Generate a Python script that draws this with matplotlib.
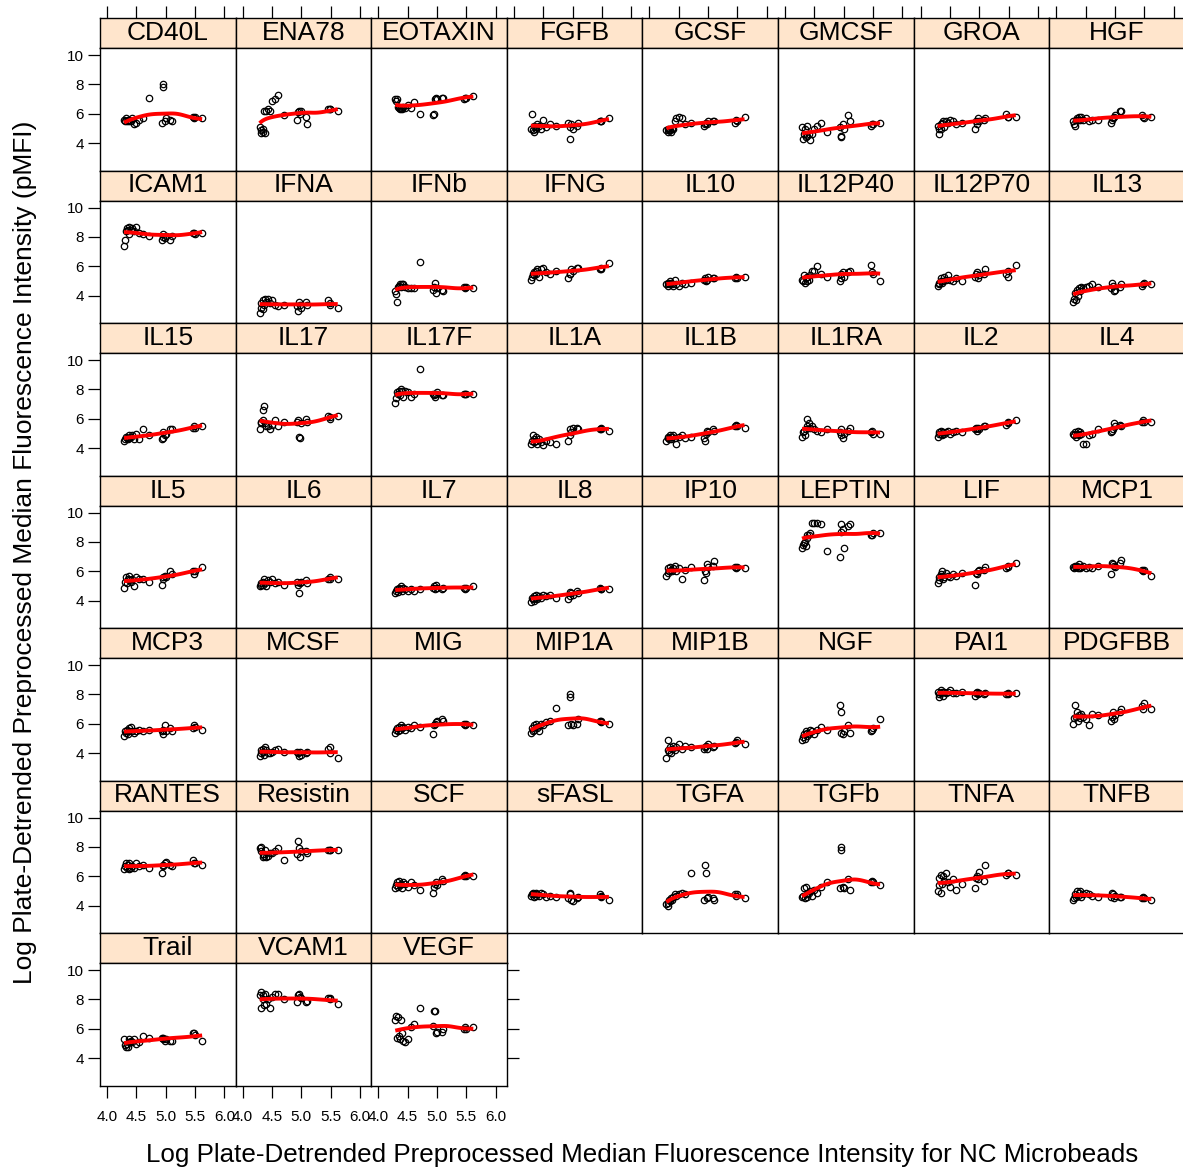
import numpy as np
import matplotlib.pyplot as plt

plt.rcParams['font.family'] = ['Liberation Sans', 'DejaVu Sans']

# NC microbead intensity per sample (shared by every analyte panel)
nc = [4.29, 4.31, 4.32, 4.34, 4.35, 4.37, 4.38, 4.40, 4.43, 4.46, 4.50, 4.55, 4.61,
      4.71, 4.93, 4.95, 4.96, 4.98, 5.00, 5.08, 5.10, 5.46, 5.48, 5.49, 5.62]

analytes = ['CD40L', 'ENA78', 'EOTAXIN', 'FGFB', 'GCSF', 'GMCSF', 'GROA', 'HGF',
            'ICAM1', 'IFNA', 'IFNb', 'IFNG', 'IL10', 'IL12P40', 'IL12P70', 'IL13',
            'IL15', 'IL17', 'IL17F', 'IL1A', 'IL1B', 'IL1RA', 'IL2', 'IL4',
            'IL5', 'IL6', 'IL7', 'IL8', 'IP10', 'LEPTIN', 'LIF', 'MCP1',
            'MCP3', 'MCSF', 'MIG', 'MIP1A', 'MIP1B', 'NGF', 'PAI1', 'PDGFBB',
            'RANTES', 'Resistin', 'SCF', 'sFASL', 'TGFA', 'TGFb', 'TNFA', 'TNFB',
            'Trail', 'VCAM1', 'VEGF']

pmfi = {
    'CD40L':   [5.6,5.5,5.7,5.5,5.6,5.5,5.6,5.5,5.7,5.3,5.4,5.6,5.7,7.1,5.4,8.0,7.8,5.5,5.7,5.6,5.5,5.8,5.7,5.8,5.7],
    'ENA78':   [5.1,4.7,4.9,4.8,5.0,6.2,4.7,6.2,6.3,6.2,6.9,7.0,7.3,5.9,5.6,6.1,6.2,6.0,6.2,5.8,5.3,6.3,6.3,6.3,6.2],
    'EOTAXIN': [7.0,6.9,7.0,6.5,6.4,6.3,6.4,6.3,6.5,6.4,6.6,6.4,6.8,6.0,5.9,6.0,7.0,7.1,7.0,7.1,7.1,7.0,7.1,7.1,7.2],
    'FGFB':    [5.0,6.0,4.9,5.2,4.8,5.1,5.0,5.3,5.2,5.0,5.6,5.1,5.3,5.2,5.4,5.1,4.3,5.3,5.0,5.2,5.4,5.5,5.5,5.5,5.7],
    'GCSF':    [4.9,4.8,5.0,4.9,4.9,4.8,5.0,5.0,5.5,5.7,5.8,5.7,5.3,5.4,5.2,5.3,5.4,5.3,5.5,5.5,5.5,5.4,5.6,5.5,5.8],
    'GMCSF':   [5.1,4.3,4.6,5.0,4.4,5.2,4.5,4.6,4.2,4.6,5.0,5.2,5.4,4.8,5.1,4.4,4.5,5.3,5.0,5.9,5.5,5.2,5.3,5.3,5.4],
    'GROA':    [5.2,4.6,5.0,5.3,5.0,5.4,5.5,5.1,5.5,5.4,5.6,5.5,5.3,5.4,5.0,5.5,5.3,5.7,5.5,5.6,5.7,6.0,5.8,5.8,5.8],
    'HGF':     [5.5,5.3,5.2,5.6,5.7,5.6,5.8,5.6,5.8,5.6,5.7,5.5,5.6,5.6,5.4,5.6,5.7,5.8,5.9,6.2,6.2,5.9,5.8,5.7,5.8],
    'ICAM1':   [7.4,7.8,8.4,8.6,8.5,8.2,8.7,8.5,8.6,8.4,8.7,8.3,8.2,8.1,7.8,8.0,8.2,7.9,8.1,7.8,8.1,8.3,8.3,8.2,8.3],
    'IFNA':    [2.8,3.2,3.5,3.1,3.7,3.4,3.8,3.6,3.8,3.5,3.7,3.4,3.3,3.4,3.3,3.0,3.6,3.4,3.2,3.6,3.4,3.7,3.4,3.5,3.2],
    'IFNb':    [4.3,4.1,3.6,4.6,4.7,4.8,4.6,4.8,4.8,4.6,4.5,4.5,4.5,6.3,4.4,4.6,4.9,4.2,4.5,4.4,4.3,4.6,4.5,4.6,4.5],
    'IFNG':    [5.1,5.3,5.5,5.6,5.4,5.7,5.5,5.8,5.3,5.8,5.9,5.6,5.5,5.7,5.2,5.5,5.5,5.8,5.7,5.9,5.9,5.8,5.8,5.9,6.2],
    'IL10':    [4.8,4.9,4.7,4.8,5.0,4.9,4.8,4.7,5.1,4.8,4.7,4.9,4.8,4.9,5.1,5.2,5.0,5.1,5.3,5.2,5.2,5.2,5.3,5.2,5.3],
    'IL12P40': [5.1,5.0,5.4,4.9,5.2,5.0,5.3,5.1,5.4,5.7,5.7,6.0,5.5,5.3,5.0,5.2,5.5,5.6,5.3,5.6,5.7,6.1,5.6,5.5,5.0],
    'IL12P70': [4.7,4.8,4.9,5.0,5.2,4.9,5.0,5.3,5.1,5.4,5.1,5.0,5.2,5.0,5.3,5.5,5.6,5.2,5.4,5.5,5.8,5.5,5.3,5.7,6.1],
    'IL13':    [3.6,3.8,4.2,3.7,4.4,4.0,4.5,4.3,4.6,4.5,4.6,4.7,4.8,4.6,4.5,4.9,4.7,4.3,4.4,4.6,4.8,4.7,4.8,4.9,4.8],
    'IL15':    [4.5,4.6,4.8,4.7,4.6,4.9,4.7,4.8,4.9,4.6,5.0,4.6,5.3,4.9,4.6,4.7,5.1,4.9,5.0,5.3,5.3,5.4,5.5,5.4,5.5],
    'IL17':    [5.3,5.7,5.8,6.6,5.9,6.9,5.7,5.5,5.5,5.3,5.6,5.9,5.5,5.8,5.8,5.9,4.8,4.7,5.7,6.0,5.8,6.2,6.0,6.1,6.2],
    'IL17F':   [7.1,7.4,7.8,7.7,7.9,7.6,8.0,7.9,7.5,7.9,7.8,7.5,7.7,9.4,7.7,7.6,7.5,7.7,7.8,7.6,7.6,7.7,7.7,7.7,7.7],
    'IL1A':    [4.3,4.5,4.9,4.6,4.4,4.8,4.5,4.3,4.6,4.4,4.2,4.5,4.4,4.3,4.5,4.9,5.3,5.1,5.4,5.4,5.3,5.3,5.4,5.3,5.2],
    'IL1B':    [4.5,4.7,4.8,4.6,4.9,4.6,4.8,4.9,4.7,4.3,4.8,4.9,4.7,4.8,4.7,4.5,5.0,5.2,5.1,5.3,5.2,5.5,5.6,5.5,5.4],
    'IL1RA':   [4.8,5.1,5.2,4.9,5.3,5.5,6.0,5.7,5.4,5.5,5.3,5.2,5.1,5.3,5.1,4.9,5.3,4.7,5.0,5.2,5.4,5.1,5.2,5.0,5.0],
    'IL2':     [4.8,5.0,5.1,5.2,5.0,4.9,5.1,5.0,5.1,5.2,5.0,5.1,5.2,5.1,5.3,5.4,5.2,5.4,5.3,5.5,5.5,5.6,5.8,5.7,5.9],
    'IL4':     [5.0,4.9,5.1,4.8,5.0,5.2,4.9,5.1,5.0,4.3,4.3,4.9,5.0,5.3,5.1,5.2,5.3,5.7,5.5,5.6,5.5,5.8,5.9,5.8,5.8],
    'IL5':     [4.9,5.3,5.6,5.2,5.5,5.4,5.7,5.3,5.5,5.0,5.6,5.5,5.5,5.3,5.1,5.5,5.6,5.7,5.6,6.0,5.8,6.0,5.8,6.0,6.3],
    'IL6':     [5.0,5.1,5.2,5.3,5.1,5.5,5.2,5.0,5.4,5.3,5.5,5.2,5.3,5.1,5.3,5.1,4.5,5.2,5.3,5.4,5.2,5.5,5.6,5.5,5.5],
    'IL7':     [4.5,4.7,4.8,4.6,4.9,4.8,5.0,4.7,4.9,4.8,4.7,4.8,4.7,4.8,4.9,5.0,4.8,5.1,4.9,4.8,4.9,4.9,4.8,4.9,5.0],
    'IL8':     [3.9,4.2,4.1,4.3,4.0,4.2,4.4,4.1,4.3,4.2,4.4,4.3,4.4,4.2,4.1,4.3,4.6,4.5,4.4,4.7,4.5,4.9,4.8,4.8,4.8],
    'IP10':    [5.7,5.9,6.2,6.0,6.3,6.1,6.0,6.2,6.4,6.0,6.2,5.5,6.1,6.3,5.4,6.0,5.9,6.5,6.3,6.4,6.7,6.3,6.2,6.3,6.2],
    'LEPTIN':  [7.6,7.8,7.9,8.0,7.7,8.3,8.5,8.5,8.6,9.3,9.3,9.3,9.2,7.4,7.0,9.2,8.7,8.9,7.6,9.1,9.2,8.5,8.5,8.6,8.6],
    'LIF':     [5.2,5.4,5.6,5.7,5.8,6.0,5.5,5.6,5.9,5.7,5.6,5.8,5.7,5.9,5.1,5.9,5.8,6.0,6.1,6.1,6.3,6.2,6.3,6.4,6.6],
    'MCP1':    [6.3,6.2,6.4,6.3,6.4,6.2,6.5,6.2,6.3,6.4,6.2,6.3,6.2,6.4,5.8,6.6,6.5,6.4,6.3,6.6,6.8,6.1,6.0,6.1,5.7],
    'MCP3':    [5.2,5.5,5.4,5.6,5.3,5.7,5.5,5.8,5.5,5.4,5.5,5.6,5.5,5.6,5.5,5.3,5.6,5.9,5.5,5.7,5.5,5.7,5.9,5.8,5.6],
    'MCSF':    [3.8,4.0,4.2,4.3,4.1,3.9,4.4,4.2,4.0,4.0,4.1,4.2,4.3,4.1,4.1,4.0,3.8,4.1,3.9,4.0,4.1,4.3,4.0,4.4,3.7],
    'MIG':     [5.4,5.6,5.7,5.5,5.8,5.6,5.9,5.7,5.8,5.6,5.8,5.7,5.9,5.8,5.3,5.9,6.0,6.1,6.2,6.3,6.2,6.0,5.9,6.0,5.9],
    'MIP1A':   [5.4,5.7,5.5,5.9,5.6,6.0,5.8,5.7,5.5,6.0,5.9,6.1,6.2,7.1,5.9,8.0,7.8,6.0,5.9,6.0,6.3,6.2,6.1,6.2,6.0],
    'MIP1B':   [3.7,4.2,4.9,4.1,4.4,4.0,4.3,4.5,4.2,4.4,4.6,4.3,4.5,4.4,4.3,4.4,4.5,4.3,4.6,4.4,4.5,4.7,4.8,4.9,4.6],
    'NGF':     [4.9,5.1,5.3,5.0,5.5,5.2,5.4,5.3,5.6,5.5,5.3,5.6,5.8,5.6,7.3,6.8,5.4,5.3,5.5,5.9,5.4,5.5,5.6,5.7,6.3],
    'PAI1':    [8.2,8.0,7.8,8.1,8.3,8.2,7.9,8.2,8.1,8.2,8.3,8.1,8.1,8.2,7.9,8.1,8.2,8.0,8.1,8.0,8.1,8.0,8.0,8.1,8.1],
    'PDGFBB':  [6.0,6.4,7.3,6.5,6.8,6.2,6.6,6.4,6.7,6.5,6.3,5.9,6.7,6.6,6.2,6.5,6.8,6.3,6.6,6.8,7.0,7.2,7.0,7.4,7.0],
    'RANTES':  [6.5,6.7,6.9,6.6,6.8,6.5,6.9,6.6,6.7,6.6,6.9,6.7,6.8,6.6,6.2,6.7,6.8,6.9,7.0,6.8,6.7,7.1,6.9,6.9,6.8],
    'Resistin':[7.9,7.7,8.0,7.3,7.5,7.4,7.8,7.3,7.4,7.6,7.6,7.7,7.9,7.1,7.5,8.4,7.9,7.3,7.7,7.7,7.6,7.8,7.8,7.8,7.8],
    'SCF':     [5.2,5.4,5.6,5.3,5.7,5.4,5.5,5.2,5.6,5.5,5.3,5.6,5.4,5.1,4.9,5.3,5.5,5.6,5.4,5.8,5.7,6.0,6.1,6.0,6.0],
    'sFASL':   [4.7,4.8,4.9,4.6,4.8,4.7,4.9,4.8,4.7,4.9,4.8,4.6,4.7,4.6,4.5,4.9,4.8,4.4,4.3,4.5,4.6,4.8,4.7,4.6,4.4],
    'TGFA':    [4.1,4.2,4.0,4.4,4.3,4.5,4.4,4.6,4.8,4.7,4.8,4.9,4.8,6.2,4.4,6.8,6.2,4.5,4.6,4.5,4.4,4.8,4.7,4.8,4.5],
    'TGFb':    [4.6,4.7,5.2,4.5,5.3,4.8,4.6,4.9,5.0,4.7,5.1,4.9,5.3,5.6,5.2,8.0,7.8,5.3,5.2,5.8,5.1,5.6,5.7,5.6,5.4],
    'TNFA':    [5.0,5.4,5.9,4.9,6.1,5.5,6.0,5.7,6.2,5.6,5.3,5.8,5.1,5.5,5.2,5.9,6.0,5.8,6.3,5.7,6.8,6.1,6.2,6.2,6.1],
    'TNFB':    [4.4,4.5,4.8,4.6,5.0,4.7,4.9,5.0,4.6,4.8,4.9,4.8,4.7,4.6,4.6,4.9,4.8,4.5,4.7,4.6,4.6,4.5,4.6,4.5,4.4],
    'Trail':   [5.3,4.9,4.8,5.0,4.8,5.1,5.3,5.2,5.1,5.3,5.0,5.1,5.5,5.4,5.4,5.4,5.3,5.2,5.3,5.2,5.2,5.7,5.7,5.6,5.2],
    'VCAM1':   [8.3,8.5,7.4,8.3,8.0,7.6,8.4,7.7,8.0,7.4,8.2,8.4,8.4,8.0,7.8,8.3,8.4,8.2,8.1,7.8,7.9,8.1,8.1,8.0,7.7],
    'VEGF':    [6.6,6.9,5.4,6.8,5.5,5.3,6.6,5.7,5.2,5.1,5.3,6.1,6.3,7.4,6.2,7.2,7.2,5.7,5.8,5.8,6.0,6.0,6.1,6.0,6.1],
}

xticks = [4.0, 4.5, 5.0, 5.5, 6.0]
yticks = [4, 6, 8, 10]


def smooth(x, y, span=2/3, npts=50):
    # local linear smoother, tricube window of span * x-range
    x = np.asarray(x, float)
    y = np.asarray(y, float)
    h = span * (x.max() - x.min())
    grid = np.linspace(x.min(), x.max(), npts)
    fit = []
    for g in grid:
        d = np.abs(x - g)
        w = np.sqrt(np.clip(1 - (d / h) ** 3, 0, None) ** 3)
        A = np.vstack([np.ones_like(x), x - g]).T
        coef, *_ = np.linalg.lstsq(A * w[:, None], y * w, rcond=None)
        fit.append(coef[0])
    return grid, np.array(fit)


W, H = 1183, 1170
fig = plt.figure(figsize=(W / 100, H / 100), dpi=100)

ncol = 8
x0, pw = 100, 135.6
y0, rowh, sh = 18, 152.5, 30
ph = rowh - sh
nrow = int(np.ceil(len(analytes) / ncol))


def fbox(x, y, w, h):
    return [x / W, 1 - (y + h) / H, w / W, h / H]


for i, name in enumerate(analytes):
    r, c = divmod(i, ncol)
    px = x0 + c * pw
    py = y0 + r * rowh
    last_in_row = (c == ncol - 1) or (i == len(analytes) - 1)
    bottom_row = (r == nrow - 1)

    st = fig.add_axes(fbox(px, py, pw, sh))
    st.set_facecolor('#ffe5cc')
    st.set_xticks([])
    st.set_yticks([])
    for s in st.spines.values():
        s.set_linewidth(1.0)
    st.text(0.5, 0.5, name, ha='center', va='center', fontsize=19,
            transform=st.transAxes)
    if r == 0:
        st.set_xlim(3.88, 6.19)
        st.set_xticks(xticks)
        st.tick_params(axis='x', top=True, bottom=False, labeltop=False,
                       labelbottom=False, direction='out', length=8.5, width=0.9)

    ax = fig.add_axes(fbox(px, py + sh, pw, ph))
    ax.plot(nc, pmfi[name], 'o', mfc='none', mec='black', ms=4.6, mew=0.9)
    gx, gy = smooth(nc, pmfi[name])
    ax.plot(gx, gy, color='red', lw=2.8, solid_capstyle='butt')
    ax.set_xlim(3.88, 6.19)
    ax.set_ylim(2.15, 10.48)
    for s in ax.spines.values():
        s.set_linewidth(1.0)

    ax.set_yticks(yticks)
    ax.tick_params(axis='y', left=(c == 0), right=last_in_row, labelleft=(c == 0),
                   labelright=False, direction='out', length=8.5, width=0.9,
                   labelsize=11, pad=3)
    ax.set_xticks(xticks)
    ax.set_xticklabels(['4.0', '4.5', '5.0', '5.5', '6.0'])
    ax.tick_params(axis='x', bottom=bottom_row, labelbottom=bottom_row, top=False,
                   direction='out', length=8.5, width=0.9, labelsize=11, pad=9)

fig.text(25 / W, 1 - 552 / H,
         'Log Plate-Detrended Preprocessed Median Fluorescence Intensity (pMFI)',
         rotation=90, ha='center', va='center', fontsize=19)
fig.text(642 / W, 1 - 1155 / H,
         'Log Plate-Detrended Preprocessed Median Fluorescence Intensity for NC Microbeads',
         ha='center', va='center', fontsize=18.7)

fig.savefig('out.png', dpi=100)
